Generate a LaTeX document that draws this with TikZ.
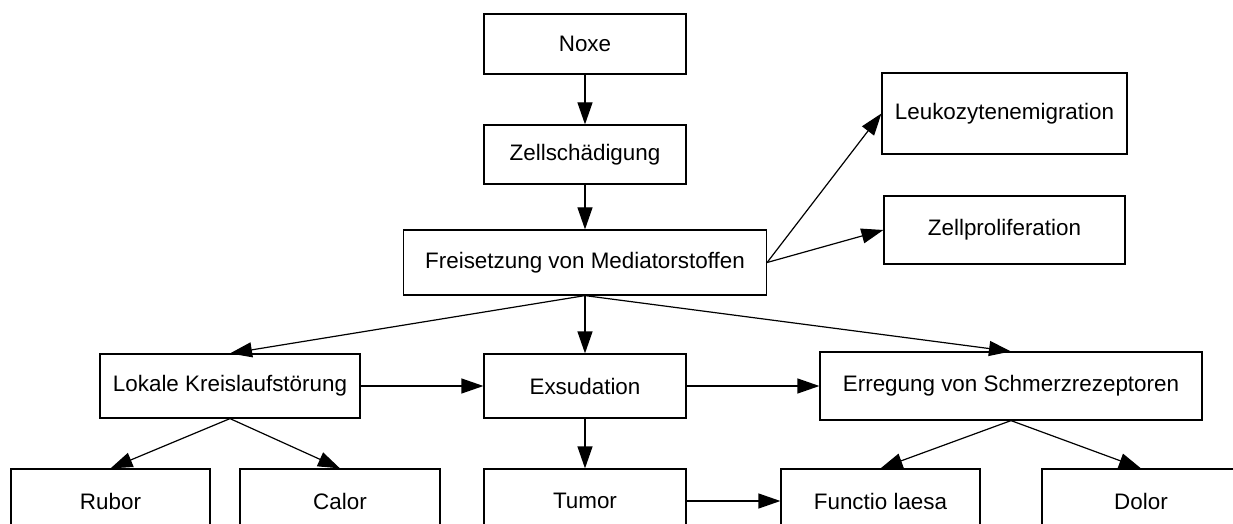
\documentclass[tikz,border=0pt]{standalone}
\usepackage{fontspec}
\setmainfont{Liberation Sans}
\usepackage{tikz}
\usetikzlibrary{arrows.meta}
\tikzset{
    stage/.style={draw,line width=0.6pt,inner sep=0pt,align=center,font=\fontsize{11.2}{13}\selectfont},
    flow/.style={->,line width=0.6pt}
}

\begin{document}
\begin{tikzpicture}[x=0.5pt,y=-0.5pt,>={Triangle[length=11pt,width=7.5pt]}]
        % canvas of the picture, lower boxes are cut at its edge
        \useasboundingbox (0,0) rectangle (1233,524);
        \clip (0,0) rectangle (1233,524);
        % draw the upper chain
        \node[stage,minimum width=101pt,minimum height=30pt] (noxe) at (585,44) {Noxe};
        \node[stage,minimum width=101pt,minimum height=29.5pt] (schaden) at (585,154.5) {Zellschädigung};
        \node[stage,minimum width=181.5pt,minimum height=32.5pt] (mediator) at (585,262.5) {Freisetzung von Mediatorstoffen};
        \node[stage,minimum width=122.5pt,minimum height=40.5pt] (leuko) at (1004.5,113.5) {Leukozytenemigration};
        \node[stage,minimum width=120.5pt,minimum height=34pt] (prolif) at (1004.5,230) {Zellproliferation};
        % draw the middle row
        \node[stage,minimum width=130pt,minimum height=32pt] (kreislauf) at (230,386) {Lokale Kreislaufstörung};
        \node[stage,minimum width=101pt,minimum height=32pt] (exsud) at (585,386) {Exsudation};
        \node[stage,minimum width=191pt,minimum height=34pt] (schmerz) at (1011,386) {Erregung von Schmerzrezeptoren};
        % draw the cardinal signs
        \node[stage,minimum width=99.5pt,minimum height=32pt] (rubor) at (110.5,501) {Rubor};
        \node[stage,minimum width=100pt,minimum height=32pt] (calor) at (340,501) {Calor};
        \node[stage,minimum width=101pt,minimum height=32pt] (tumor) at (585,501) {Tumor};
        \node[stage,minimum width=99.5pt,minimum height=32pt] (functio) at (880.5,501) {Functio laesa};
        \node[stage,minimum width=99pt,minimum height=32pt] (dolor) at (1141,501) {Dolor};
        % draw the connections
        \draw[flow] (noxe) -- (schaden);
        \draw[flow] (schaden) -- (mediator);
        \draw[flow] (mediator.east) -- (leuko.west);
        \draw[flow] (mediator.east) -- (prolif.west);
        \draw[flow] (mediator.south) -- (kreislauf.north);
        \draw[flow] (mediator.south) -- (exsud.north);
        \draw[flow] (mediator.south) -- (schmerz.north);
        \draw[flow] (kreislauf) -- (exsud);
        \draw[flow] (exsud) -- (schmerz);
        \draw[flow] (kreislauf.south) -- (rubor.north);
        \draw[flow] (kreislauf.south) -- (calor.north);
        \draw[flow] (exsud) -- (tumor);
        \draw[flow] (tumor) -- (functio);
        \draw[flow] (schmerz.south) -- (functio.north);
        \draw[flow] (schmerz.south) -- (dolor.north);
    \end{tikzpicture}
\end{document}
